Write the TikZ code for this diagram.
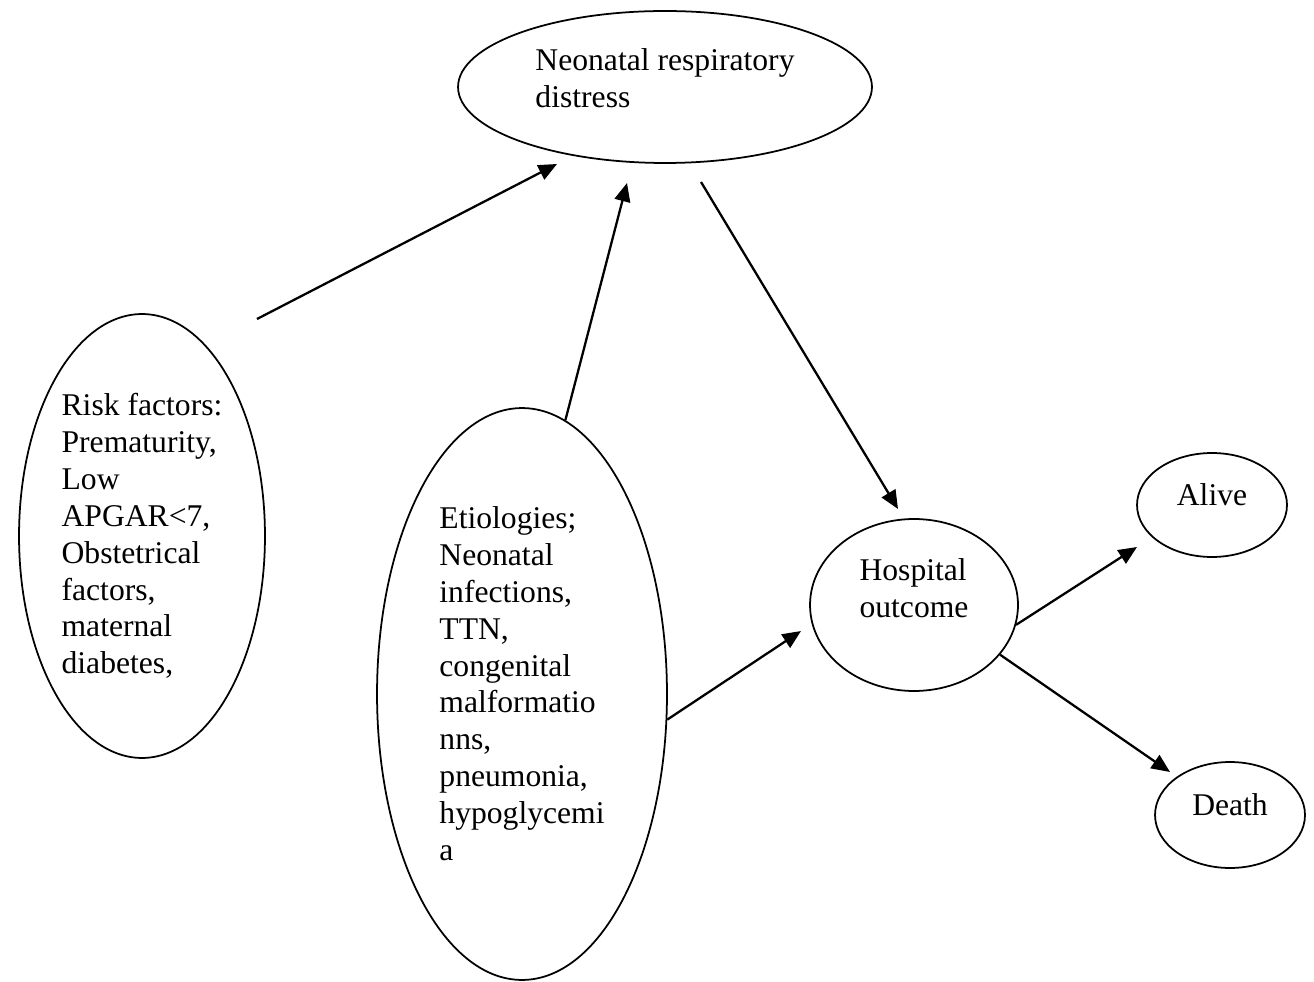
\documentclass[tikz,border=0pt]{standalone}
\usepackage{fontspec}
\setmainfont{Liberation Serif}
\usetikzlibrary{shapes.geometric,arrows.meta}

\begin{document}
\begin{tikzpicture}[x=0.02cm,y=-0.02cm,>={Triangle[length=10.5pt,width=9pt]},
  bubble/.style={draw,ellipse,line width=1pt,inner sep=0pt,align=left,
    font=\fontsize{18}{21}\selectfont},
  flow/.style={->,line width=1.3pt}]
  \useasboundingbox (0,0) rectangle (1314,982);

  % the ellipses
  \node[bubble,minimum width=8.28cm,minimum height=3.04cm,text depth=10.6pt] (nrd) at (665,87)
    {Neonatal respiratory\\distress};
  \node[bubble,minimum width=4.92cm,minimum height=8.88cm] (risk) at (142,536)
    {Risk factors:\\Prematurity,\\Low\\APGAR<7,\\Obstetrical\\factors,\\maternal\\diabetes,};
  \node[bubble,minimum width=5.8cm,minimum height=11.44cm,text depth=11.9pt] (etio) at (522,694)
    {Etiologies;\\Neonatal\\infections,\\TTN,\\congenital\\malformatio\\nns,\\pneumonia,\\hypoglycemi\\a};
  \node[bubble,minimum width=4.16cm,minimum height=3.44cm,text depth=19.7pt] (hosp) at (914,605)
    {Hospital\\outcome};
  \node[bubble,minimum width=3cm,minimum height=2.08cm,text depth=12.3pt] (alive) at (1212,505) {Alive};
  \node[bubble,minimum width=3cm,minimum height=2.12cm,text depth=12.3pt] (death) at (1230,815) {Death};

  % loose ends of the arrows
  \coordinate (risk-out) at (257,319);
  \coordinate (nrd-out) at (701,182);
  \coordinate (nrd-in1) at (557,164);
  \coordinate (nrd-in2) at (627,183);
  \coordinate (hosp-in1) at (898,509);
  \coordinate (hosp-in2) at (801,631);
  \coordinate (alive-in) at (1137,547);
  \coordinate (death-in) at (1170,772);

  \foreach \from/\to in {risk-out/nrd-in1, etio.81/nrd-in2, nrd-out/hosp-in1,
    etio.-10.7/hosp-in2, hosp.-11.2/alive-in, hosp.-30.4/death-in}
    \draw[flow] (\from) -- (\to);
\end{tikzpicture}
\end{document}
